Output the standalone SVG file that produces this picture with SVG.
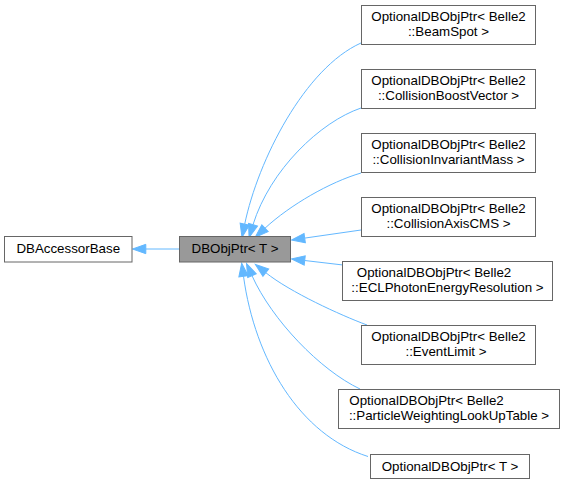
<svg xmlns="http://www.w3.org/2000/svg" width="564" height="485" viewBox="0 0 564 485">
<style>
.n rect{fill:#ffffff;stroke:#666666;stroke-width:1}
.n.hl rect{fill:#999999}
.n text{font-family:"Liberation Sans",Arial,sans-serif;font-size:13.33px;fill:#000000;text-anchor:middle}
.e path{fill:none;stroke:#63b8ff;stroke-width:1;marker-end:url(#ah)}
</style>
<defs>
<marker id="ah" markerUnits="userSpaceOnUse" markerWidth="14" markerHeight="10" refX="0" refY="4.67" orient="auto" overflow="visible">
<path d="M13.3,0 L0,4.67 L13.3,9.33 Z" transform="matrix(-1,0,0,1,13.3,0)" fill="#63b8ff" stroke="#63b8ff" stroke-width="1"/>
</marker>
</defs>
<rect x="0" y="0" width="564" height="485" fill="#ffffff"/>
<g id="edges" class="e">
<path d="M179,249 L145.8,249"/>
<path d="M361,43 C305,68 258,160 244.7,224.2"/>
<path d="M361,108 C320,122 270,170 253,224.7"/>
<path d="M361,173 C330,182 290,205 265,228.2"/>
<path d="M361,230 L304.7,238.1"/>
<path d="M343,265 L304.7,260.5"/>
<path d="M367,325 C340,315 290,292 265.8,272.7"/>
<path d="M360,389 C320,370 272,320 252,275.7"/>
<path d="M368,456.5 C300,435 255,360 243.5,276.3"/>
</g>
<g id="DBAccessorBase" class="n">
<rect x="4.5" y="236.5" width="127.5" height="25.5"/>
<text x="68.25" y="252.5">DBAccessorBase</text>
</g>
<g id="DBObjPtr" class="n hl">
<rect x="179.5" y="236.5" width="111" height="25.5"/>
<text x="235" y="252.5">DBObjPtr&lt; T &gt;</text>
</g>
<g id="BeamSpot" class="n">
<rect x="361.5" y="5.5" width="174" height="39"/>
<text x="448.5" y="21">OptionalDBObjPtr&lt; Belle2</text>
<text x="448.5" y="36">::BeamSpot &gt;</text>
</g>
<g id="CollisionBoostVector" class="n">
<rect x="361.5" y="69.5" width="174" height="39"/>
<text x="448.5" y="85">OptionalDBObjPtr&lt; Belle2</text>
<text x="448.5" y="100">::CollisionBoostVector &gt;</text>
</g>
<g id="CollisionInvariantMass" class="n">
<rect x="361.5" y="133.5" width="174" height="39"/>
<text x="448.5" y="149">OptionalDBObjPtr&lt; Belle2</text>
<text x="448.5" y="164">::CollisionInvariantMass &gt;</text>
</g>
<g id="CollisionAxisCMS" class="n">
<rect x="361.5" y="197.5" width="174" height="39"/>
<text x="448.5" y="213">OptionalDBObjPtr&lt; Belle2</text>
<text x="448.5" y="228">::CollisionAxisCMS &gt;</text>
</g>
<g id="ECLPhotonEnergyResolution" class="n">
<rect x="342.5" y="261.5" width="210" height="39"/>
<text x="434" y="277">OptionalDBObjPtr&lt; Belle2</text>
<text x="447.5" y="292">::ECLPhotonEnergyResolution &gt;</text>
</g>
<g id="EventLimit" class="n">
<rect x="361.5" y="325.5" width="174" height="39"/>
<text x="448.5" y="341">OptionalDBObjPtr&lt; Belle2</text>
<text x="446" y="356">::EventLimit &gt;</text>
</g>
<g id="ParticleWeightingLookUpTable" class="n">
<rect x="338.5" y="389.5" width="221" height="39"/>
<text x="426.5" y="405">OptionalDBObjPtr&lt; Belle2</text>
<text x="449" y="420">::ParticleWeightingLookUpTable &gt;</text>
</g>
<g id="OptionalDBObjPtrT" class="n">
<rect x="370.5" y="454.5" width="159" height="24"/>
<text x="450" y="470.5">OptionalDBObjPtr&lt; T &gt;</text>
</g>
</svg>
